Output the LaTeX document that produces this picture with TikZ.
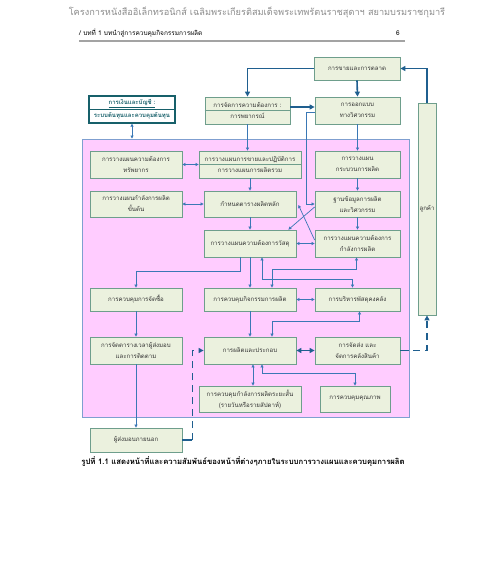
\documentclass[tikz,border=0pt]{standalone}
\usepackage{fontspec}
\setmainfont[Script=Thai]{Loma}
\usetikzlibrary{arrows.meta}
\definecolor{boxfill}{HTML}{EBF1DE}
\definecolor{boxdraw}{HTML}{6E9E8C}
\definecolor{lnblue}{HTML}{3A78B5}
\definecolor{dkblue}{HTML}{1F5F8F}
\definecolor{pinkfill}{HTML}{FFCCFF}
\definecolor{pinkdraw}{HTML}{7F9FD0}
\definecolor{acctc}{HTML}{17606A}
\definecolor{hdrgray}{HTML}{8C8C8C}
\tikzset{
  box/.style={draw=boxdraw, fill=boxfill, line width=0.8pt, inner sep=0pt, align=center,
    font=\fontsize{6.1}{11}\selectfont, text=black!80},
  ln/.style={draw=lnblue, line width=0.7pt},
  thk/.style={draw=dkblue, line width=1.6pt},
  tip/.tip={Triangle[length=3pt,width=3pt]},
  tipL/.tip={Triangle[length=5pt,width=5pt]},
}
\begin{document}
\begin{tikzpicture}[x=1pt,y=-1pt]
\useasboundingbox[fill=white] (0,0) rectangle (480,586);
% header
\node[text=hdrgray, font=\fontsize{9.2}{11}\selectfont] (hdr) at (257,12) {โครงการหนังสืออิเล็กทรอนิกส์ เฉลิมพระเกียรติสมเด็จพระเทพรัตนราชสุดาฯ สยามบรมราชกุมารี};
\node[anchor=west, font=\fontsize{6.5}{8}\selectfont, inner sep=0pt] (sub) at (79,33) {/ บทที่ 1 บทนำสู่การควบคุมกิจกรรมการผลิต};
\node[font=\fontsize{6.5}{8}\selectfont, inner sep=0pt] (pg) at (398,33) {6};
\draw[hdrgray!80, line width=2pt] (sub.west |- 0,41) coordinate (hl) -- (405,41) coordinate (hr);

% pink region
\node[draw=pinkdraw, fill=pinkfill, line width=0.9pt, minimum width=327pt, minimum height=278pt, inner sep=0pt] (pink) at (245.5,278) {};

% top boxes
\node[box, minimum width=86pt, minimum height=23pt] (sales) at (357,68.5) {การขายและการตลาด};
\node[draw=acctc, fill=white, line width=1.3pt, minimum width=86pt, minimum height=27pt, inner sep=0pt, align=center, text=acctc, font=\bfseries\fontsize{6}{13}\selectfont] (acct) at (132,109.5) {\underline{การเงินและบัญชี :}\\ ระบบต้นทุนและควบคุมต้นทุน};
\draw[acctc, line width=1.3pt] (acct.west) -- (acct.east);
\node[box, minimum width=85pt, minimum height=27pt] (demand) at (247.5,110.5) {การจัดการความต้องการ :\\ การพยากรณ์};
\draw[boxdraw, line width=0.8pt] (demand.west) -- (demand.east);
\node[box, minimum width=85pt, minimum height=27pt] (design) at (357.5,110.5) {การออกแบบ\\ ทางวิศวกรรม};
\node[box, minimum width=18pt, minimum height=212pt] (cust) at (427,209) {ลูกค้า};

% row 1
\node[box, minimum width=92pt, minimum height=27pt] (res) at (136,164.5) {การวางแผนความต้องการ\\ ทรัพยากร};
\node[box, minimum width=102pt, minimum height=27pt] (sop) at (250,164.5) {การวางแผนการขายและปฏิบัติการ\\ การวางแผนการผลิตรวม};
\draw[boxdraw, line width=0.8pt] (sop.west) -- (sop.east);
\node[box, minimum width=85pt, minimum height=27pt] (proc) at (357.5,164.5) {การวางแผน\\ กระบวนการผลิต};
% row 2
\node[box, minimum width=92pt, minimum height=26pt] (rough) at (136,204) {การวางแผนกำลังการผลิต\\ ขั้นต้น};
\node[box, minimum width=92pt, minimum height=26pt] (mps) at (250,204) {กำหนดตารางผลิตหลัก};
\node[box, minimum width=85pt, minimum height=26pt] (db) at (357.5,204) {ฐานข้อมูลการผลิต\\ และวิศวกรรม};
% row 3
\node[box, minimum width=92pt, minimum height=27pt] (mrp) at (250,243.5) {การวางแผนความต้องการวัสดุ};
\node[box, minimum width=85pt, minimum height=27pt] (crp) at (357.5,243.5) {การวางแผนความต้องการ\\ กำลังการผลิต};
% row 4
\node[box, minimum width=92pt, minimum height=23pt] (purch) at (136,299.5) {การควบคุมการจัดซื้อ};
\node[box, minimum width=92pt, minimum height=23pt] (pac) at (250,299.5) {การควบคุมกิจกรรมการผลิต};
\node[box, minimum width=85pt, minimum height=23pt] (inv) at (357.5,299.5) {การบริหารพัสดุคงคลัง};
% row 5
\node[box, minimum width=92pt, minimum height=27pt] (supp) at (136,350.5) {การจัดตารางเวลาผู้ส่งมอบ\\ และการติดตาม};
\node[box, minimum width=92pt, minimum height=27pt] (prod) at (250,350.5) {การผลิตและประกอบ};
\node[box, minimum width=85pt, minimum height=27pt] (ship) at (357.5,350.5) {การจัดส่ง และ\\ จัดการคลังสินค้า};
% row 6
\node[box, minimum width=102pt, minimum height=26pt] (short) at (250,399) {การควบคุมกำลังการผลิตระยะสั้น\\ (รายวันหรือรายสัปดาห์)};
\node[box, minimum width=70pt, minimum height=26pt] (qual) at (355,399) {การควบคุมคุณภาพ};
% external
\node[box, minimum width=92pt, minimum height=24pt] (ext) at (136,440) {ผู้ส่งมอบภายนอก};

% caption
\node[font=\bfseries\fontsize{7.7}{9}\selectfont] (cap) at (243,462) {รูปที่ 1.1 แสดงหน้าที่และความสัมพันธ์ของหน้าที่ต่างๆภายในระบบการวางแผนและควบคุมการผลิต};

% ---- connectors: top (thick)
\draw[thk,-tipL] (cust.north) |- (sales.east);
\draw[thk,-tipL] (sales.west) -| (demand.north);
\draw[thk,-tipL] (sales.south) -- (design.north);
\draw[thk,-tipL] ([yshift=3.5pt]demand.east) -- ([yshift=3.5pt]design.west);
\draw[ln,-tip] ([yshift=-2pt]design.west) -- ++(-8,0) |- (db.west);
\draw[ln,tip-tip] (acct.south) -- (acct.south |- pink.north);

% row1
\draw[ln,tip-tip] (res.east) -- (sop.west);
\draw[ln,-tip] (demand.south) -- (demand.south |- sop.north);
\draw[ln,-tip] (design.south) -- (proc.north);
% row2
\draw[ln,tip-tip] (rough.east) -- (mps.west);
\draw[ln,-tip] (sop.south) -- (mps.north);
\draw[ln,-tip] (proc.south) -- (db.north);
% row3
\draw[ln,-tip] (mps.south) -- (mrp.north);
\draw[ln,-tip] (db.south) -- (crp.north);
\draw[ln,tip-tip] (mrp.east) -- (crp.west);
\draw[ln,-tip] ([yshift=-3pt]db.west) -- ([xshift=-8pt]mrp.north east);
\draw[ln,-tip] ([yshift=3.5pt]crp.west) -- ([yshift=-1pt,xshift=2pt]mps.east);
% row4
\draw[ln,-tip] ([xshift=-10pt]mrp.south) -- ++(0,14) -| (purch.north);
\draw[ln,-tip] (mrp.south) -- (pac.north);
\draw[ln,tip-tip] ([xshift=12pt]mrp.south) -- ++(0,22) -| ([xshift=-5pt]inv.north);
\draw[ln,tip-tip] ([xshift=22pt]pac.north) -- ++(0,-18) -| ([xshift=-1pt]crp.south);
\draw[ln,tip-tip] (pac.east) -- (inv.west);
% row5
\draw[ln,-tip] (purch.south) -- (supp.north);
\draw[ln,-tip] (supp.south) -- (ext.north);
\draw[ln,-tip] (pac.south) -- (prod.north);
\draw[ln,tip-tip] ([xshift=22pt]prod.north) -- ++(0,-15) -| ([xshift=2pt]inv.south);
\draw[thk,tipL-tipL] (prod.east) -- (ship.west);
\draw[thk] (ship.east) -- (pink.east |- ship.east) coordinate (pe);
\draw[thk,dash pattern=on 7pt off 5pt,-tipL] ([xshift=4pt]pe) -| (cust.south);
\draw[thk] (ext.east) -- ++(10,0) coordinate (ee);
\draw[thk,dash pattern=on 7pt off 5pt,-tipL] (ee) |- (prod.west);
% row6
\draw[ln,tip-tip] ([xshift=3pt]prod.south) -- ([xshift=3pt]short.north);
\draw[ln,tip-tip] ([xshift=12pt]prod.south) -- ++(0,9) -| (qual.north);
\end{tikzpicture}
\end{document}
